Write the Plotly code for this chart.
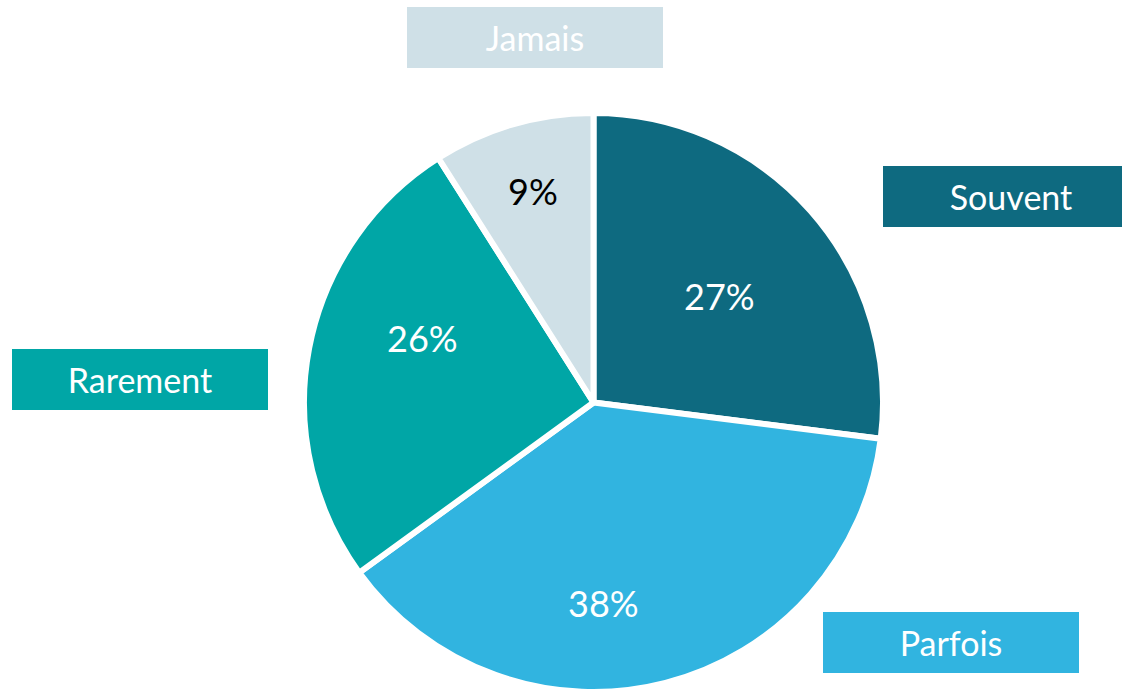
import plotly.graph_objects as go

W, H = 1122, 700  # page shows the top 689 px

categories = ["Souvent", "Parfois", "Rarement", "Jamais"]
values = [27, 38, 26, 9]
colors = ["#0E6A80", "#31B4E0", "#00A6A6", "#CFE0E7"]
text_colors = ["white", "white", "white", "black"]

# label box centers (pixels from top-left) for the category boxes
box_centers = {
    "Jamais": (535, 38),
    "Souvent": (1011, 196.5),
    "Rarement": (140, 379.5),
    "Parfois": (951, 642),
}
# percentage label centers (pixels)
pct_centers = {
    "Souvent": (719, 296),
    "Parfois": (603, 603),
    "Rarement": (422, 338),
    "Jamais": (533, 191),
}

cx, cy, r = 593.5, 402.5, 289.5

fig = go.Figure(go.Pie(
    labels=categories,
    values=values,
    sort=False,
    direction="clockwise",
    rotation=0,
    marker=dict(colors=colors, line=dict(color="white", width=6)),
    textinfo="none",
    showlegend=False,
    hoverinfo="label+percent",
    domain=dict(x=[(cx - r) / W, (cx + r) / W], y=[(H - cy - r) / H, (H - cy + r) / H]),
))

for cat, val, col, tcol in zip(categories, values, colors, text_colors):
    bx, by = box_centers[cat]
    fig.add_annotation(
        x=bx / W, y=1 - by / H, xref="paper", yref="paper",
        text=cat, showarrow=False,
        width=256, height=61, bgcolor=col, borderpad=0, borderwidth=0,
        font=dict(color="white", size=34, family="Lato"),
        xanchor="center", yanchor="middle",
    )
    px, py = pct_centers[cat]
    fig.add_annotation(
        x=px / W, y=1 - py / H, xref="paper", yref="paper",
        text=f"{val}%", showarrow=False,
        font=dict(color=tcol, size=36, family="Lato"),
        xanchor="center", yanchor="middle",
    )

fig.update_layout(
    width=W, height=H,
    margin=dict(l=0, r=0, t=0, b=0),
    paper_bgcolor="white",
    plot_bgcolor="white",
)

fig.write_html(
    "out.html",
    config={"displayModeBar": False},
    post_script="document.body.style.margin='0';document.body.style.overflow='hidden';",
)
